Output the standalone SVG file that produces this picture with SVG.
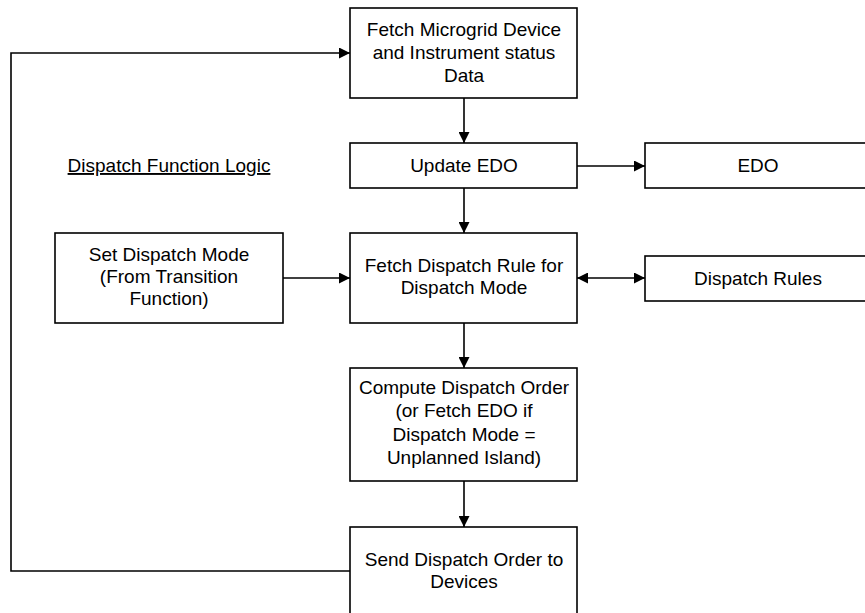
<svg xmlns="http://www.w3.org/2000/svg" width="865" height="613" viewBox="0 0 865 613">
  <style>
    .box { fill: #ffffff; stroke: #000000; stroke-width: 1.6; }
    .lbl { font-family: "Liberation Sans", Arial, sans-serif; font-size: 19px; fill: #000000; text-anchor: middle; }
    .wire { fill: none; stroke: #000000; stroke-width: 1.6; }
  </style>
  <defs>
    <marker id="arrow" viewBox="0 0 11 11" refX="11" refY="5.5" markerWidth="11" markerHeight="11" markerUnits="userSpaceOnUse" orient="auto-start-reverse">
      <path d="M0,0 L11,5.5 L0,11 Z" fill="#000000"/>
    </marker>
  </defs>
  <rect x="0" y="0" width="865" height="613" fill="#ffffff"/>

  <!-- Caption -->
  <text class="lbl" x="169" y="172" text-decoration="underline">Dispatch Function Logic</text>

  <!-- Connectors -->
  <g id="connectors">
    <line class="wire" x1="464" y1="98" x2="464" y2="143" marker-end="url(#arrow)"/>
    <line class="wire" x1="577" y1="166" x2="645" y2="166" marker-end="url(#arrow)"/>
    <line class="wire" x1="464" y1="188" x2="464" y2="233" marker-end="url(#arrow)"/>
    <line class="wire" x1="283" y1="278" x2="350" y2="278" marker-end="url(#arrow)"/>
    <line class="wire" x1="577" y1="278" x2="645" y2="278" marker-start="url(#arrow)" marker-end="url(#arrow)"/>
    <line class="wire" x1="464" y1="323" x2="464" y2="368" marker-end="url(#arrow)"/>
    <line class="wire" x1="464" y1="481" x2="464" y2="527" marker-end="url(#arrow)"/>
    <polyline class="wire" points="350,571 11,571 11,53 350,53" marker-end="url(#arrow)"/>
  </g>

  <!-- Nodes -->
  <g id="fetch-status">
    <rect class="box" x="350" y="8" width="227" height="90"/>
    <text class="lbl" x="464" y="36">Fetch Microgrid Device</text>
    <text class="lbl" x="464" y="59">and Instrument status</text>
    <text class="lbl" x="464" y="82">Data</text>
  </g>
  <g id="update-edo">
    <rect class="box" x="350" y="143" width="227" height="45"/>
    <text class="lbl" x="464" y="172">Update EDO</text>
  </g>
  <g id="edo">
    <rect class="box" x="645" y="143" width="227" height="45"/>
    <text class="lbl" x="758" y="172">EDO</text>
  </g>
  <g id="set-mode">
    <rect class="box" x="55" y="233" width="228" height="90"/>
    <text class="lbl" x="169" y="261">Set Dispatch Mode</text>
    <text class="lbl" x="169" y="283">(From Transition</text>
    <text class="lbl" x="169" y="305">Function)</text>
  </g>
  <g id="fetch-rule">
    <rect class="box" x="350" y="233" width="227" height="90"/>
    <text class="lbl" x="464" y="272">Fetch Dispatch Rule for</text>
    <text class="lbl" x="464" y="294">Dispatch Mode</text>
  </g>
  <g id="dispatch-rules">
    <rect class="box" x="645" y="256" width="227" height="45"/>
    <text class="lbl" x="758" y="285">Dispatch Rules</text>
  </g>
  <g id="compute-order">
    <rect class="box" x="350" y="368" width="227" height="113"/>
    <text class="lbl" x="464" y="394">Compute Dispatch Order</text>
    <text class="lbl" x="464" y="417">(or Fetch EDO if</text>
    <text class="lbl" x="464" y="441">Dispatch Mode =</text>
    <text class="lbl" x="464" y="464">Unplanned Island)</text>
  </g>
  <g id="send-order">
    <rect class="box" x="350" y="527" width="227" height="92"/>
    <text class="lbl" x="464" y="566">Send Dispatch Order to</text>
    <text class="lbl" x="464" y="588">Devices</text>
  </g>
</svg>
